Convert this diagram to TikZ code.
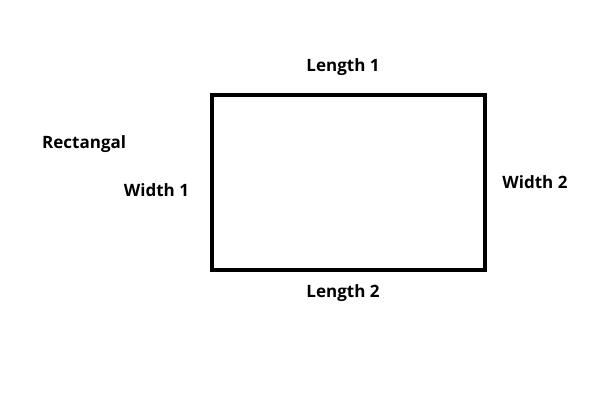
\documentclass[tikz,border=0pt]{standalone}
\usepackage{fontspec}
\setmainfont{Open Sans}
\begin{document}
\begin{tikzpicture}[x=1pt,y=-1pt,
  lbl/.style={font=\fontsize{17}{20}\selectfont\bfseries, inner sep=0pt}]
\useasboundingbox[fill=white] (0,0) rectangle (600,400);
\node[draw, line width=4.5pt, minimum width=273pt, minimum height=175pt, inner sep=0pt] (rect) at (348.5,182.5) {};
\node[lbl] (l1) at (343,67) {Length 1};
\node[lbl] (l2) at (343,293) {Length 2};
\node[lbl] (w1) at (156.5,190) {Width 1};
\node[lbl] (w2) at (535,182) {Width 2};
\node[lbl, anchor=west] (title) at (42,144) {Rectangal};
\end{tikzpicture}
\end{document}
